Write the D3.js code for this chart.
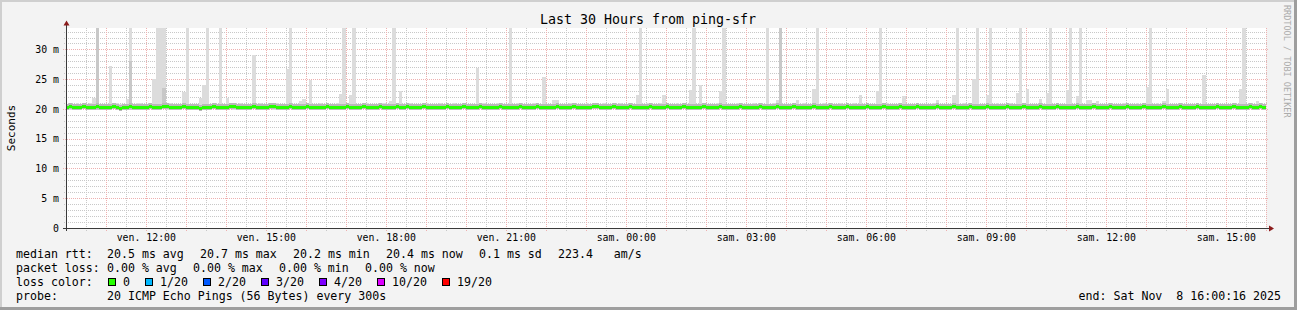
<!DOCTYPE html>
<html><head><meta charset="utf-8">
<script src="https://cdn.jsdelivr.net/npm/d3@7"></script>
<style>
html,body{margin:0;padding:0;background:#f3f3f3;}
svg{display:block;}
text{font-family:"DejaVu Sans Mono",monospace;}
</style>
</head><body>
<svg id="c" width="1297" height="310"></svg>
<script>
// ---- data (one sample every 300 s, 360 samples, ms) ----
const medianRtt = [
20.4,20.5,20.4,20.3,20.4,20.5,20.4,20.3,20.4,20.5,20.4,20.3,20.4,20.4,20.5,20.3,20.2,20.3,20.4,20.5,20.4,20.4,20.3,20.4,
20.4,20.5,20.4,20.3,20.4,20.5,20.5,20.4,20.3,20.3,20.4,20.5,20.4,20.4,20.3,20.4,20.2,20.3,20.4,20.4,20.5,20.4,20.4,20.3,
20.4,20.5,20.5,20.4,20.4,20.3,20.4,20.4,20.5,20.4,20.3,20.4,20.4,20.5,20.5,20.4,20.4,20.3,20.4,20.5,20.4,20.3,20.4,20.4,
20.5,20.4,20.4,20.3,20.3,20.4,20.5,20.4,20.4,20.3,20.4,20.4,20.5,20.4,20.3,20.4,20.4,20.5,20.4,20.4,20.3,20.4,20.5,20.4,
20.4,20.3,20.4,20.5,20.4,20.4,20.5,20.4,20.3,20.4,20.4,20.5,20.4,20.4,20.3,20.3,20.4,20.4,20.5,20.4,20.3,20.4,20.4,20.5,
20.4,20.4,20.3,20.4,20.5,20.4,20.4,20.3,20.4,20.4,20.5,20.4,20.3,20.4,20.4,20.4,20.5,20.4,20.3,20.4,20.4,20.5,20.4,20.4,
20.3,20.4,20.4,20.5,20.4,20.4,20.3,20.4,20.5,20.4,20.4,20.3,20.4,20.4,20.5,20.5,20.4,20.3,20.4,20.4,20.5,20.4,20.3,20.4,
20.4,20.5,20.4,20.4,20.3,20.4,20.4,20.5,20.4,20.3,20.4,20.4,20.5,20.4,20.4,20.3,20.4,20.5,20.4,20.4,20.3,20.4,20.4,20.5,
20.4,20.4,20.3,20.4,20.5,20.4,20.4,20.3,20.3,20.4,20.5,20.4,20.4,20.3,20.4,20.4,20.5,20.4,20.3,20.4,20.4,20.5,20.4,20.4,
20.3,20.4,20.5,20.4,20.4,20.3,20.4,20.4,20.5,20.4,20.3,20.4,20.4,20.5,20.4,20.4,20.3,20.4,20.5,20.4,20.4,20.3,20.4,20.4,
20.5,20.4,20.3,20.4,20.4,20.5,20.4,20.3,20.4,20.4,20.5,20.4,20.4,20.3,20.4,20.5,20.4,20.4,20.3,20.4,20.4,20.5,20.4,20.3,
20.4,20.4,20.5,20.4,20.3,20.4,20.4,20.5,20.4,20.4,20.3,20.4,20.5,20.4,20.4,20.3,20.4,20.4,20.5,20.4,20.3,20.4,20.4,20.5,
20.4,20.3,20.4,20.4,20.5,20.4,20.4,20.3,20.4,20.5,20.4,20.4,20.3,20.4,20.4,20.5,20.4,20.3,20.4,20.4,20.5,20.4,20.4,20.3,
20.4,20.5,20.4,20.3,20.4,20.4,20.5,20.4,20.4,20.3,20.4,20.5,20.4,20.4,20.3,20.4,20.4,20.5,20.4,20.3,20.4,20.4,20.5,20.4,
20.4,20.3,20.4,20.5,20.4,20.4,20.3,20.4,20.4,20.5,20.4,20.3,20.4,20.4,20.5,20.4,20.4,20.3,20.4,20.5,20.4,20.4,20.5,20.4
];
const pingMin = [
20.0,19.9,20.0,20.1,19.9,20.0,19.9,20.0,20.0,19.8,20.0,20.1,20.0,19.9,20.0,20.0,19.9,20.0,20.1,19.9,20.0,20.0,19.9,20.0,
19.9,20.0,20.0,19.9,20.1,20.0,19.9,20.0,19.8,20.0,20.0,20.1,19.9,20.0,20.0,19.9,20.0,19.8,20.0,20.1,20.0,19.9,20.0,20.0,
20.0,20.1,19.9,20.0,20.0,19.9,20.0,20.1,20.0,19.9,19.8,20.0,20.0,20.1,19.9,20.0,20.0,19.9,20.0,20.0,20.1,19.9,20.0,19.9,
20.1,20.0,19.9,20.0,19.9,20.0,20.1,20.0,19.9,20.0,20.0,19.9,20.1,20.0,19.9,20.0,20.0,20.1,19.9,20.0,19.9,20.0,20.1,20.0,
20.0,19.9,20.0,20.1,20.0,19.9,20.1,20.0,19.9,20.0,20.0,20.1,20.0,19.9,19.9,20.0,20.0,20.1,20.0,19.9,20.0,20.0,20.1,20.0,
19.9,20.0,19.9,20.0,20.1,20.0,19.9,19.9,20.0,20.0,20.1,20.0,19.9,20.0,20.0,19.9,20.1,20.0,19.9,20.0,20.0,20.1,19.9,20.0,
19.9,20.0,20.0,20.1,20.0,19.9,19.9,20.0,20.1,20.0,19.9,19.9,20.0,20.0,20.1,20.1,20.0,19.9,20.0,20.0,20.1,20.0,19.9,20.0,
20.0,20.1,20.0,19.9,19.9,20.0,20.0,20.1,20.0,19.9,20.0,20.0,20.1,20.0,19.9,19.9,20.0,20.1,20.0,20.0,19.9,20.0,20.0,20.1,
20.0,19.9,19.9,20.0,20.1,20.0,20.0,19.9,19.8,20.0,20.1,20.0,20.0,19.9,20.0,20.0,20.1,20.0,19.9,20.0,20.0,20.1,20.0,19.9,
19.9,20.0,20.1,20.0,20.0,19.9,20.0,20.0,20.1,20.0,19.9,20.0,20.0,20.1,20.0,19.9,19.9,20.0,20.1,20.0,20.0,19.9,20.0,20.0,
20.1,20.0,19.9,20.0,20.0,20.1,20.0,19.9,20.0,20.0,20.1,20.0,19.9,19.9,20.0,20.1,20.0,20.0,19.9,20.0,20.0,20.1,20.0,19.9,
20.0,20.0,20.1,20.0,19.9,20.0,20.0,20.1,20.0,19.9,19.9,20.0,20.1,20.0,20.0,19.9,20.0,20.0,20.1,20.0,19.9,20.0,20.0,20.1,
20.0,19.9,20.0,20.0,20.1,20.0,19.9,19.9,20.0,20.1,20.0,20.0,19.9,20.0,20.0,20.1,20.0,19.9,20.0,20.0,20.1,20.0,19.9,19.9,
20.0,20.1,20.0,19.9,20.0,20.0,20.1,20.0,19.9,19.9,20.0,20.1,20.0,20.0,19.9,20.0,20.0,20.1,20.0,19.9,20.0,20.0,20.1,20.0,
20.0,19.9,20.0,20.1,20.0,19.9,19.9,20.0,20.0,20.1,20.0,19.9,20.0,20.0,20.1,20.0,19.9,19.9,20.0,20.1,20.0,20.0,20.1,20.0
];
const pingMax = [
20.9,20.8,20.9,21.0,20.9,20.8,20.9,21.0,21.9,34,20.9,20.8,20.9,27.3,20.9,21.0,20.8,20.9,21.6,34,20.9,21.0,21.0,20.9,
20.9,20.8,25.1,34,34,34,20.9,21.0,20.9,20.8,20.9,22.9,34,20.9,20.8,20.9,21.9,24.0,34,20.9,21.0,20.8,34,20.9,
21.8,20.9,20.8,20.9,21.0,20.9,20.8,20.9,29.0,20.9,21.0,20.9,20.8,20.9,20.9,21.0,20.8,20.9,26.7,34,20.9,20.8,21.3,21.6,
20.9,24.8,20.9,20.8,21.0,20.9,20.9,20.8,20.9,21.0,22.5,34,20.9,22.4,34,20.9,20.8,20.9,21.0,20.9,20.8,20.9,20.9,21.0,
20.9,21.4,34,20.9,23.0,20.8,20.9,21.0,20.9,20.8,20.9,20.9,21.0,20.8,20.9,20.9,21.0,20.9,20.8,20.9,21.0,20.9,20.8,20.9,
20.9,20.8,20.9,26.9,20.9,21.0,20.8,20.9,20.9,21.0,20.9,20.8,20.9,34,20.9,21.0,20.9,20.8,20.9,20.9,21.0,20.8,20.9,25.4,
20.9,20.8,21.5,21.5,20.9,20.8,20.9,21.0,20.9,20.9,20.8,20.9,21.0,20.9,20.8,20.9,20.9,21.0,20.9,20.8,20.9,20.9,21.0,20.9,
20.9,20.8,20.9,22.4,34,20.9,21.0,20.8,20.9,20.9,21.0,22.4,20.9,20.8,20.9,21.0,20.9,20.8,20.9,23.2,34,20.9,24.0,20.9,
20.9,20.8,20.9,21.0,23.0,34,20.9,20.8,20.9,21.0,20.9,20.9,20.8,20.9,21.0,20.9,20.8,20.9,34,20.9,21.0,21.5,34,20.9,
20.9,20.8,20.9,21.5,20.9,21.0,20.8,20.9,23.3,34,20.9,21.0,20.9,20.8,20.9,20.9,21.0,20.8,20.9,20.9,21.0,20.9,22.4,20.9,
20.9,20.8,20.9,23.0,34,20.9,21.0,20.8,20.9,20.9,21.0,22.2,20.9,20.8,20.9,21.0,20.9,20.9,20.8,20.9,21.0,21.5,20.9,20.8,
20.9,20.8,22.4,34,20.9,21.0,20.8,20.9,25.1,34,20.9,20.8,22.4,34,20.9,21.0,20.8,20.9,21.0,21.0,20.9,22.7,34,20.9,
23.3,20.9,20.8,20.9,21.6,20.9,22.7,34,20.9,21.0,20.8,20.9,23.2,34,20.9,22.2,34,20.9,21.5,21.5,20.9,21.4,20.8,20.9,
20.9,21.0,20.8,20.9,20.9,21.0,20.9,20.8,20.9,21.0,20.9,20.8,23.7,34,20.9,21.0,20.8,21.3,23.4,20.9,20.8,20.9,21.0,20.9,
20.9,20.8,20.9,21.0,20.9,25.7,20.9,20.8,20.9,21.0,20.9,20.8,20.9,20.9,21.0,20.9,23.4,34,20.9,20.8,20.9,21.3,20.9,20.9
];
// second-highest ping where it also left the base band
const shoulderIdx = [9, 19, 29, 214];
const shoulderVal = [34, 28.0, 23.5, 34];

const yTicks = [0, 5, 10, 15, 20, 25, 30];
const yTickLabels = ["0", "5 m", "10 m", "15 m", "20 m", "25 m", "30 m"];
const xTickTimes = ["2025-11-07T12:00:00Z","2025-11-07T15:00:00Z","2025-11-07T18:00:00Z","2025-11-07T21:00:00Z",
  "2025-11-08T00:00:00Z","2025-11-08T03:00:00Z","2025-11-08T06:00:00Z","2025-11-08T09:00:00Z",
  "2025-11-08T12:00:00Z","2025-11-08T15:00:00Z"];
const xTickLabels = ["ven. 12:00","ven. 15:00","ven. 18:00","ven. 21:00","sam. 00:00","sam. 03:00",
  "sam. 06:00","sam. 09:00","sam. 12:00","sam. 15:00"];
const lossLabels = ["0", "1/20", "2/20", "3/20", "4/20", "10/20", "19/20"];
const lossColors = ["#26ff00", "#00b8ff", "#0059ff", "#5e00ff", "#7e00ff", "#dd00ff", "#ff0000"];
const legendRtt = ["20.5 ms avg", "20.7 ms max", "20.2 ms min", "20.4 ms now", "0.1 ms sd", "223.4   am/s"];
const legendLoss = ["0.00 % avg", "0.00 % max", "0.00 % min", "0.00 % now"];
const titleText = "Last 30 Hours from ping-sfr";
const probeText = "20 ICMP Echo Pings (56 Bytes) every 300s";
const endText = "end: Sat Nov  8 16:00:16 2025";
const startTime = "2025-11-07T10:00:16Z", endTime = "2025-11-08T16:00:16Z";
const firstSample = "2025-11-07T10:00:00Z", stepSeconds = 300;

// ---- drawing ----
const W = 1297, H = 310, L = 66, R = 1266, T = 28, B = 228;
const svg = d3.select("#c");
const x = d3.scaleUtc().domain([new Date(startTime), new Date(endTime)]).range([L, R]);
const y = d3.scaleLinear().domain([0, 33.6]).range([B, T]).clamp(true);

svg.append("rect").attr("width", W).attr("height", H).attr("fill", "#f3f3f3");
svg.append("rect").attr("x", 0).attr("y", 0).attr("width", W).attr("height", 2).attr("fill", "#cfcfcf");
svg.append("rect").attr("x", 0).attr("y", 0).attr("width", 2).attr("height", H).attr("fill", "#cfcfcf");
svg.append("rect").attr("x", 0).attr("y", H - 3).attr("width", W).attr("height", 3).attr("fill", "#9e9e9e");
svg.append("rect").attr("x", W - 3).attr("y", 0).attr("width", 3).attr("height", H).attr("fill", "#9e9e9e");

svg.append("rect").attr("x", L).attr("y", T).attr("width", R - L).attr("height", B - T).attr("fill", "#ffffff");

// grid
const MINOR = "#c8c8c8", MAJOR = "#eeb0b0";
const grid = svg.append("g").attr("shape-rendering", "crispEdges").attr("stroke-dasharray", "1,1");
d3.range(1, 34).filter(v => v % 5 !== 0).forEach(v => {
  grid.append("line").attr("x1", L - 2).attr("x2", R + 2).attr("y1", Math.round(y(v)) + 0.5).attr("y2", Math.round(y(v)) + 0.5)
    .attr("stroke", MINOR);
});
const halfHours = d3.utcMinute.every(30).range(new Date(startTime), new Date(endTime)).filter(d => d.getUTCMinutes() === 30);
halfHours.forEach(d => {
  const xx = Math.round(x(d)) + 0.5;
  grid.append("line").attr("x1", xx).attr("x2", xx).attr("y1", T).attr("y2", B + 3).attr("stroke", MINOR);
});
yTicks.filter(v => v > 0).forEach(v => {
  grid.append("line").attr("x1", L - 3).attr("x2", R + 2).attr("y1", Math.round(y(v)) + 0.5).attr("y2", Math.round(y(v)) + 0.5)
    .attr("stroke", MAJOR);
});
d3.utcHour.range(new Date(startTime), new Date(endTime)).forEach(d => {
  const xx = Math.round(x(d)) + 0.5;
  grid.append("line").attr("x1", xx).attr("x2", xx).attr("y1", T).attr("y2", B + 3).attr("stroke", MAJOR);
});

// data
svg.append("clipPath").attr("id", "plot").append("rect").attr("x", L).attr("y", T).attr("width", R - L).attr("height", B - T);
const data = svg.append("g").attr("clip-path", "url(#plot)").attr("shape-rendering", "crispEdges");
const t0 = new Date(firstSample).getTime();
const samples = medianRtt.map((m, i) => {
  const a = Math.round(x(new Date(t0 + i * stepSeconds * 1000)));
  const b = Math.round(x(new Date(t0 + (i + 1) * stepSeconds * 1000)));
  return { i, x: a, w: b - a, med: m, lo: pingMin[i], hi: pingMax[i] };
});
data.selectAll("rect.smoke").data(samples).join("rect").attr("class", "smoke")
  .attr("x", d => d.x).attr("width", d => d.w)
  .attr("y", d => Math.round(y(d.hi))).attr("height", d => Math.round(y(d.lo)) - Math.round(y(d.hi)))
  .attr("fill", "#dcdcdc");
data.selectAll("rect.shoulder").data(shoulderIdx.map((idx, k) => ({ s: samples[idx], v: shoulderVal[k] }))).join("rect")
  .attr("class", "shoulder")
  .attr("x", d => d.s.x).attr("width", d => d.s.w)
  .attr("y", d => Math.round(y(d.v))).attr("height", d => Math.round(y(d.s.lo)) - Math.round(y(d.v)))
  .attr("fill", "#c8c8c8");
data.selectAll("rect.core").data(samples).join("rect").attr("class", "core")
  .attr("x", d => d.x).attr("width", d => d.w)
  .attr("y", d => Math.round(y(d.med)) - 3).attr("height", 6)
  .attr("fill", "#b9b9b9");
data.selectAll("rect.med").data(samples).join("rect").attr("class", "med")
  .attr("x", d => d.x).attr("width", d => d.w)
  .attr("y", d => Math.round(y(d.med)) - 1).attr("height", 3)
  .attr("fill", lossColors[0]);

// axes labels
const yAxis = svg.append("g").attr("transform", `translate(${L},0)`)
  .call(d3.axisLeft(y).tickValues(yTicks).tickFormat((d, i) => yTickLabels[i]).tickSize(0).tickPadding(7));
yAxis.select(".domain").remove();
yAxis.selectAll("text").attr("font-family", "DejaVu Sans Mono").attr("font-size", "9.85px").attr("fill", "#000");

const xAxis = svg.append("g").attr("transform", `translate(0,${B})`)
  .call(d3.axisBottom(x).tickValues(xTickTimes.map(d => new Date(d))).tickFormat((d, i) => xTickLabels[i]).tickSize(0).tickPadding(6));
xAxis.select(".domain").remove();
xAxis.selectAll("text").attr("font-family", "DejaVu Sans Mono").attr("font-size", "9.85px").attr("fill", "#000");

// axis lines + arrows
svg.append("line").attr("x1", L + 0.5).attr("x2", L + 0.5).attr("y1", B + 3).attr("y2", T - 3).attr("stroke", "#3a3a3a").attr("shape-rendering", "crispEdges");
svg.append("line").attr("x1", L - 3).attr("x2", R + 4).attr("y1", B + 0.5).attr("y2", B + 0.5).attr("stroke", "#3a3a3a").attr("shape-rendering", "crispEdges");
svg.append("path").attr("d", `M${L - 2.5},${T - 2.5}L${L + 3.5},${T - 2.5}L${L + 0.5},${T - 7.5}Z`).attr("fill", "#8b1c1c");
svg.append("path").attr("d", `M${R + 3},${B - 2.5}L${R + 3},${B + 3.5}L${R + 8},${B + 0.5}Z`).attr("fill", "#8b1c1c");

// title, y label, watermark
svg.append("text").attr("x", 648).attr("y", 24).attr("text-anchor", "middle").attr("font-size", "13.3px").attr("fill", "#000").text(titleText);
svg.append("text").attr("transform", "translate(15,128) rotate(-90)").attr("text-anchor", "middle").attr("font-size", "11px").attr("fill", "#000").text("Seconds");
svg.append("text").attr("transform", "translate(1283.5,5) rotate(90)").attr("font-size", "8.5px").attr("fill", "#ababab").text("RRDTOOL / TOBI OETIKER");

// legend
const CW = 7.0, GAP = 16, COL = 107;
function txt(xp, yp, s, anchor) {
  svg.append("text").attr("x", xp).attr("y", yp).attr("font-size", "11.6px").attr("fill", "#000")
    .attr("text-anchor", anchor || "start").attr("xml:space", "preserve").style("white-space", "pre").text(s);
}
txt(16, 258, "median rtt:");
let px = COL;
legendRtt.forEach(s => { txt(px, 258, s); px += s.length * CW + GAP; });
txt(16, 272, "packet loss:");
px = COL;
legendLoss.forEach(s => { txt(px, 272, s); px += s.length * CW + GAP; });
txt(16, 286, "loss color:");
px = 108;
lossLabels.forEach((s, k) => {
  svg.append("rect").attr("x", px + 0.5).attr("y", 278.5).attr("width", 7).attr("height", 7)
    .attr("fill", lossColors[k]).attr("stroke", "#000").attr("stroke-width", 1).attr("shape-rendering", "crispEdges");
  txt(px + 15, 286, s);
  px += 30 + s.length * CW;
});
txt(16, 299.5, "probe:");
txt(COL, 299.5, probeText);
txt(1281, 299.5, endText, "end");
</script>
</body></html>
